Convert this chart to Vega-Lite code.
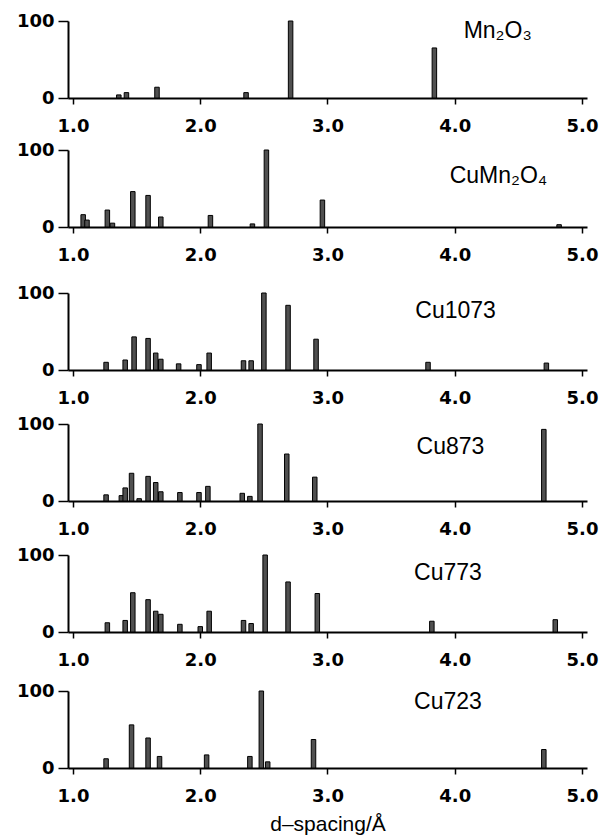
{
  "$schema": "https://vega.github.io/schema/vega-lite/v6.json",
  "padding": {"left": 16, "top": 12, "right": 5, "bottom": 5},
  "background": "white",
  "config": {
    "view": {"stroke": null},
    "axis": {"grid": false, "domainColor": "black", "domainWidth": 2, "tickColor": "black", "tickWidth": 1.5, "labelFont": "DejaVu Sans", "labelFontSize": 18, "labelFontWeight": "bold", "labelColor": "black"},
    "axisX": {"tickSize": 6, "labelPadding": 13},
    "axisY": {"tickSize": 10, "labelPadding": 4}
  },
  "datasets": {
    "peaks": [
      {"s": "Mn2O3", "d": 1.36, "I": 4}, {"s": "Mn2O3", "d": 1.42, "I": 7}, {"s": "Mn2O3", "d": 1.66, "I": 14}, {"s": "Mn2O3", "d": 2.36, "I": 7}, {"s": "Mn2O3", "d": 2.71, "I": 100}, {"s": "Mn2O3", "d": 3.84, "I": 65},
      {"s": "CuMn2O4", "d": 1.08, "I": 16}, {"s": "CuMn2O4", "d": 1.11, "I": 9}, {"s": "CuMn2O4", "d": 1.27, "I": 22}, {"s": "CuMn2O4", "d": 1.31, "I": 5}, {"s": "CuMn2O4", "d": 1.47, "I": 46}, {"s": "CuMn2O4", "d": 1.59, "I": 41}, {"s": "CuMn2O4", "d": 1.69, "I": 13}, {"s": "CuMn2O4", "d": 2.08, "I": 15}, {"s": "CuMn2O4", "d": 2.41, "I": 4}, {"s": "CuMn2O4", "d": 2.52, "I": 100}, {"s": "CuMn2O4", "d": 2.96, "I": 35}, {"s": "CuMn2O4", "d": 4.82, "I": 3},
      {"s": "Cu1073", "d": 1.26, "I": 10}, {"s": "Cu1073", "d": 1.41, "I": 13}, {"s": "Cu1073", "d": 1.48, "I": 43}, {"s": "Cu1073", "d": 1.59, "I": 41}, {"s": "Cu1073", "d": 1.65, "I": 22}, {"s": "Cu1073", "d": 1.69, "I": 14}, {"s": "Cu1073", "d": 1.83, "I": 8}, {"s": "Cu1073", "d": 1.99, "I": 7}, {"s": "Cu1073", "d": 2.07, "I": 22}, {"s": "Cu1073", "d": 2.34, "I": 12}, {"s": "Cu1073", "d": 2.40, "I": 12}, {"s": "Cu1073", "d": 2.50, "I": 100}, {"s": "Cu1073", "d": 2.69, "I": 84}, {"s": "Cu1073", "d": 2.91, "I": 40}, {"s": "Cu1073", "d": 3.79, "I": 10}, {"s": "Cu1073", "d": 4.72, "I": 9},
      {"s": "Cu873", "d": 1.26, "I": 8}, {"s": "Cu873", "d": 1.38, "I": 7}, {"s": "Cu873", "d": 1.41, "I": 17}, {"s": "Cu873", "d": 1.46, "I": 36}, {"s": "Cu873", "d": 1.52, "I": 3}, {"s": "Cu873", "d": 1.59, "I": 32}, {"s": "Cu873", "d": 1.65, "I": 24}, {"s": "Cu873", "d": 1.69, "I": 12}, {"s": "Cu873", "d": 1.84, "I": 11}, {"s": "Cu873", "d": 1.99, "I": 11}, {"s": "Cu873", "d": 2.06, "I": 19}, {"s": "Cu873", "d": 2.33, "I": 10}, {"s": "Cu873", "d": 2.39, "I": 6}, {"s": "Cu873", "d": 2.47, "I": 100}, {"s": "Cu873", "d": 2.68, "I": 61}, {"s": "Cu873", "d": 2.90, "I": 31}, {"s": "Cu873", "d": 4.70, "I": 93},
      {"s": "Cu773", "d": 1.27, "I": 12}, {"s": "Cu773", "d": 1.41, "I": 15}, {"s": "Cu773", "d": 1.47, "I": 51}, {"s": "Cu773", "d": 1.59, "I": 42}, {"s": "Cu773", "d": 1.65, "I": 27}, {"s": "Cu773", "d": 1.69, "I": 23}, {"s": "Cu773", "d": 1.84, "I": 10}, {"s": "Cu773", "d": 2.00, "I": 7}, {"s": "Cu773", "d": 2.07, "I": 27}, {"s": "Cu773", "d": 2.34, "I": 15}, {"s": "Cu773", "d": 2.40, "I": 11}, {"s": "Cu773", "d": 2.51, "I": 100}, {"s": "Cu773", "d": 2.69, "I": 65}, {"s": "Cu773", "d": 2.92, "I": 50}, {"s": "Cu773", "d": 3.82, "I": 14}, {"s": "Cu773", "d": 4.79, "I": 16},
      {"s": "Cu723", "d": 1.26, "I": 12}, {"s": "Cu723", "d": 1.46, "I": 56}, {"s": "Cu723", "d": 1.59, "I": 39}, {"s": "Cu723", "d": 1.68, "I": 15}, {"s": "Cu723", "d": 2.05, "I": 17}, {"s": "Cu723", "d": 2.39, "I": 15}, {"s": "Cu723", "d": 2.48, "I": 100}, {"s": "Cu723", "d": 2.53, "I": 8}, {"s": "Cu723", "d": 2.89, "I": 37}, {"s": "Cu723", "d": 4.70, "I": 24}
    ]
  },
  "spacing": 20,
  "vconcat": [
    {
      "spacing": 6,
      "vconcat": [
        {
          "width": 519, "height": 77,
          "layer": [
            {"data": {"name": "peaks"}, "transform": [{"filter": "datum.s === 'Mn2O3'"}],
             "mark": {"type": "bar", "width": 4.5, "fill": "#505050", "stroke": "black", "strokeWidth": 1},
             "encoding": {
               "x": {"field": "d", "type": "quantitative", "scale": {"domain": [1, 5], "nice": false}, "axis": {"values": [1, 2, 3, 4, 5], "format": ".1f", "title": null}},
               "y": {"field": "I", "type": "quantitative", "scale": {"domain": [0, 100], "nice": false}, "axis": {"values": [0, 100], "title": null}}}},
            {"data": {"values": [{}]}, "mark": {"type": "text", "align": "left", "baseline": "middle", "font": "Liberation Sans", "fontSize": 23, "color": "black"},
             "encoding": {"x": {"datum": 4.07}, "y": {"datum": 87}, "text": {"value": "Mn₂O₃"}}}
          ]
        },
        {
          "width": 519, "height": 77,
          "layer": [
            {"data": {"name": "peaks"}, "transform": [{"filter": "datum.s === 'CuMn2O4'"}],
             "mark": {"type": "bar", "width": 4.5, "fill": "#505050", "stroke": "black", "strokeWidth": 1},
             "encoding": {
               "x": {"field": "d", "type": "quantitative", "scale": {"domain": [1, 5], "nice": false}, "axis": {"values": [1, 2, 3, 4, 5], "format": ".1f", "title": null}},
               "y": {"field": "I", "type": "quantitative", "scale": {"domain": [0, 100], "nice": false}, "axis": {"values": [0, 100], "title": null}}}},
            {"data": {"values": [{}]}, "mark": {"type": "text", "align": "left", "baseline": "middle", "font": "Liberation Sans", "fontSize": 23, "color": "black"},
             "encoding": {"x": {"datum": 3.96}, "y": {"datum": 66}, "text": {"value": "CuMn₂O₄"}}}
          ]
        }
      ]
    },
    {
      "spacing": 13,
      "vconcat": [
        {
          "spacing": 8,
          "vconcat": [
            {
              "width": 519, "height": 77,
              "layer": [
                {"data": {"name": "peaks"}, "transform": [{"filter": "datum.s === 'Cu1073'"}],
                 "mark": {"type": "bar", "width": 4.5, "fill": "#505050", "stroke": "black", "strokeWidth": 1},
                 "encoding": {
                   "x": {"field": "d", "type": "quantitative", "scale": {"domain": [1, 5], "nice": false}, "axis": {"values": [1, 2, 3, 4, 5], "format": ".1f", "title": null}},
                   "y": {"field": "I", "type": "quantitative", "scale": {"domain": [0, 100], "nice": false}, "axis": {"values": [0, 100], "title": null}}}},
                {"data": {"values": [{}]}, "mark": {"type": "text", "align": "left", "baseline": "middle", "font": "Liberation Sans", "fontSize": 23, "color": "black"},
                 "encoding": {"x": {"datum": 3.69}, "y": {"datum": 77}, "text": {"value": "Cu1073"}}}
              ]
            },
            {
              "width": 519, "height": 77,
              "layer": [
                {"data": {"name": "peaks"}, "transform": [{"filter": "datum.s === 'Cu873'"}],
                 "mark": {"type": "bar", "width": 4.5, "fill": "#505050", "stroke": "black", "strokeWidth": 1},
                 "encoding": {
                   "x": {"field": "d", "type": "quantitative", "scale": {"domain": [1, 5], "nice": false}, "axis": {"values": [1, 2, 3, 4, 5], "format": ".1f", "title": null}},
                   "y": {"field": "I", "type": "quantitative", "scale": {"domain": [0, 100], "nice": false}, "axis": {"values": [0, 100], "title": null}}}},
                {"data": {"values": [{}]}, "mark": {"type": "text", "align": "left", "baseline": "middle", "font": "Liberation Sans", "fontSize": 23, "color": "black"},
                 "encoding": {"x": {"datum": 3.70}, "y": {"datum": 70}, "text": {"value": "Cu873"}}}
              ]
            },
            {
              "width": 519, "height": 77,
              "layer": [
                {"data": {"name": "peaks"}, "transform": [{"filter": "datum.s === 'Cu773'"}],
                 "mark": {"type": "bar", "width": 4.5, "fill": "#505050", "stroke": "black", "strokeWidth": 1},
                 "encoding": {
                   "x": {"field": "d", "type": "quantitative", "scale": {"domain": [1, 5], "nice": false}, "axis": {"values": [1, 2, 3, 4, 5], "format": ".1f", "title": null}},
                   "y": {"field": "I", "type": "quantitative", "scale": {"domain": [0, 100], "nice": false}, "axis": {"values": [0, 100], "title": null}}}},
                {"data": {"values": [{}]}, "mark": {"type": "text", "align": "left", "baseline": "middle", "font": "Liberation Sans", "fontSize": 23, "color": "black"},
                 "encoding": {"x": {"datum": 3.68}, "y": {"datum": 77}, "text": {"value": "Cu773"}}}
              ]
            }
          ]
        },
        {
          "width": 519, "height": 77,
          "layer": [
            {"data": {"name": "peaks"}, "transform": [{"filter": "datum.s === 'Cu723'"}],
             "mark": {"type": "bar", "width": 4.5, "fill": "#505050", "stroke": "black", "strokeWidth": 1},
             "encoding": {
               "x": {"field": "d", "type": "quantitative", "scale": {"domain": [1, 5], "nice": false}, "axis": {"values": [1, 2, 3, 4, 5], "format": ".1f", "title": "d–spacing/Å", "titleFont": "Liberation Sans", "titleFontSize": 21, "titleFontWeight": "normal", "titleColor": "black", "titlePadding": 8}},
               "y": {"field": "I", "type": "quantitative", "scale": {"domain": [0, 100], "nice": false}, "axis": {"values": [0, 100], "title": null}}}},
            {"data": {"values": [{}]}, "mark": {"type": "text", "align": "left", "baseline": "middle", "font": "Liberation Sans", "fontSize": 23, "color": "black"},
             "encoding": {"x": {"datum": 3.68}, "y": {"datum": 86}, "text": {"value": "Cu723"}}}
          ]
        }
      ]
    }
  ]
}
